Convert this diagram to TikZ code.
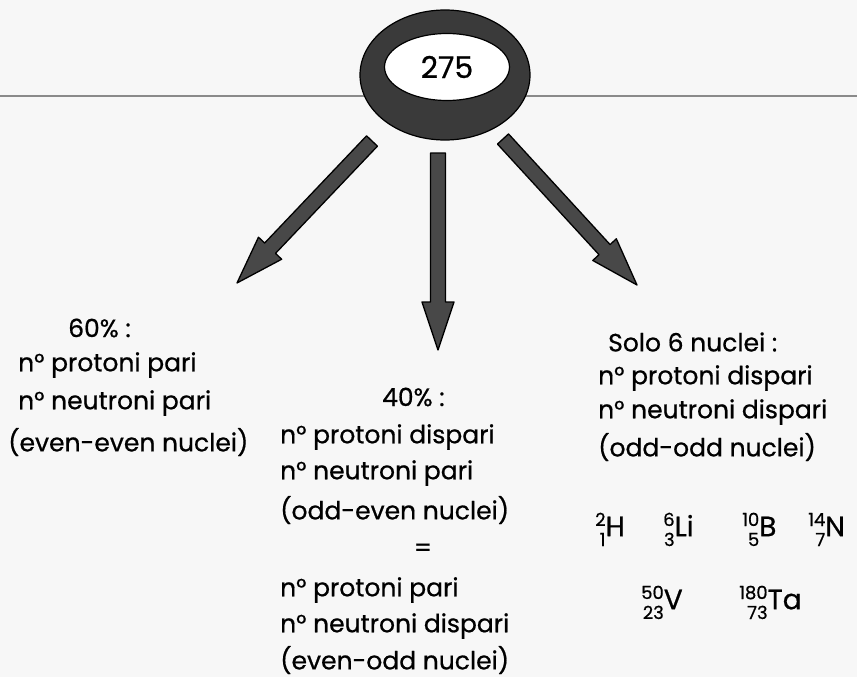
\documentclass[tikz,border=0pt]{standalone}
\usepackage{fontspec}
\setmainfont{Poppins}[FakeBold=0.7]
\usetikzlibrary{calc,shapes.geometric}
\definecolor{paper}{HTML}{F7F7F7}
\definecolor{ringgray}{HTML}{3A3A3A}
\definecolor{arrowgray}{HTML}{484848}
\definecolor{rulegray}{HTML}{8A8A8A}
\tikzset{
  txt/.style={anchor=west, inner sep=0pt, font=\fontsize{25}{25}\selectfont},
  ctr/.style={inner sep=0pt, font=\fontsize{25}{25}\selectfont},
  fat/.style={draw=black, line width=1.3pt, fill=arrowgray, line join=round},
}
\newcommand{\sw}{7.5pt}
\newcommand{\hw}{16pt}
\newcommand{\ahl}{48pt}
\newcommand{\fatarrow}[2]{%
  \coordinate (fah) at ($(#2)!\ahl!(#1)$);
  \draw[fat] ($(#1)!\sw!90:(#2)$) -- ($(fah)!\sw!90:(#2)$) -- ($(fah)!\hw!90:(#2)$)
    -- (#2) -- ($(fah)!\hw!-90:(#2)$) -- ($(fah)!\sw!-90:(#2)$) -- ($(#1)!\sw!-90:(#2)$) -- cycle;}
\newcommand{\iso}[3]{{\setlength{\tabcolsep}{0pt}\renewcommand{\arraystretch}{0.8}%
  \raisebox{-0.08em}{\begin{tabular}[c]{@{}r@{}}{\fontsize{18}{18}\selectfont #1}\\{\fontsize{18}{18}\selectfont #2}\end{tabular}}}{\fontsize{28}{28}\selectfont #3}}
\begin{document}
\begin{tikzpicture}[x=1pt,y=-1pt]
\useasboundingbox (0,0) rectangle (857,677);
\fill[paper] (0,0) rectangle (857,677);
% rule
\coordinate (rl) at (0,96);
\coordinate (rr) at (857,96);
\draw[rulegray, line width=1.5pt] (rl) -- (rr);
% ring
\node[ellipse, draw=black, line width=1.2pt, fill=ringgray, minimum width=170pt, minimum height=130pt, inner sep=0pt] (ring) at (445,75) {};
\node[ellipse, draw=black, line width=1.2pt, fill=white, minimum width=125pt, minimum height=67pt, inner sep=0pt, font=\fontsize{30}{30}\selectfont] (core) at (447,67) {275};
% arrows
\coordinate (a1s) at (372,141);
\coordinate (a1e) at (237,283);
\coordinate (a2s) at (438,153);
\coordinate (a2e) at (438,350);
\coordinate (a3s) at (503,139);
\coordinate (a3e) at (637,285);
\fatarrow{a1s}{a1e}
\fatarrow{a2s}{a2e}
\fatarrow{a3s}{a3e}
% left block
\node[txt] (l0) at (68,328) {60\% :};
\node[txt] (l1) at (18,365) {n° protoni pari};
\node[txt] (l2) at (18,403) {n° neutroni pari};
\node[txt] (l3) at (8,442) {(even-even nuclei)};
% middle block
\node[txt] (m0) at (382,397) {40\% :};
\node[txt] (m1) at (280,437) {n° protoni dispari};
\node[txt] (m2) at (280,473) {n° neutroni pari};
\node[txt] (m3) at (280,510) {(odd-even nuclei)};
\node[ctr] (meq) at (423,550) {=};
\node[txt] (m4) at (280,590) {n° protoni pari};
\node[txt] (m5) at (280,626) {n° neutroni dispari};
\node[txt] (m6) at (280,660) {(even-odd nuclei)};
% right block
\node[txt] (r0) at (608,342) {Solo 6 nuclei :};
\node[txt] (r1) at (598,378) {n° protoni dispari};
\node[txt] (r2) at (598,412) {n° neutroni dispari};
\node[txt] (r3) at (598,447) {(odd-odd nuclei)};
% isotopes
\node[txt] (iH) at (595,532) {\iso{2}{1}{H}};
\node[txt] (iLi) at (663,532) {\iso{6}{3}{Li}};
\node[txt] (iB) at (742,532) {\iso{10}{5}{B}};
\node[txt] (iN) at (808,532) {\iso{14}{7}{N}};
\node[txt] (iV) at (641,605) {\iso{50}{23}{V}};
\node[txt] (iTa) at (739,605) {\iso{180}{73}{Ta}};
\end{tikzpicture}
\end{document}
